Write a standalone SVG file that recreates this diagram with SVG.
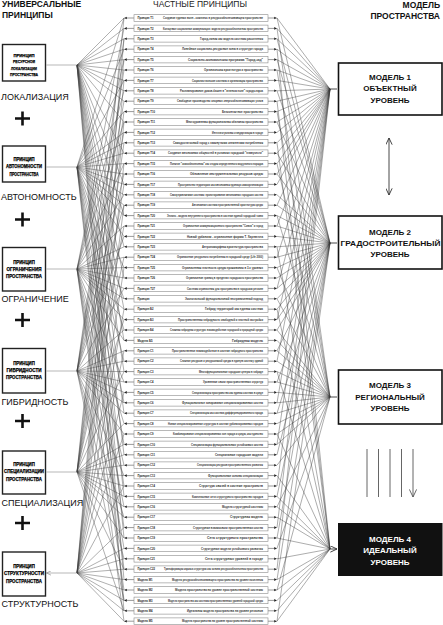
<svg xmlns="http://www.w3.org/2000/svg" xmlns:xlink="http://www.w3.org/1999/xlink" width="443" height="625" viewBox="0 0 443 625">
<style>
text{font-family:"Liberation Sans",Arial,sans-serif}
.hd{font-size:8.5px;font-weight:bold;fill:#111}
.hr{font-size:8.5px;fill:#222}
.ub{fill:#fff;stroke:#222;stroke-width:1.4}
.ut{font-weight:bold;fill:#000;stroke:#000;stroke-width:0.25;text-anchor:middle}
.ul{font-size:9px;fill:#111}
.pl{stroke:#111;stroke-width:2.6;fill:none}
.rb{fill:#fff;stroke:#8a8a8a;stroke-width:0.6}
.rl{stroke:#333;stroke-width:0.5;fill:none}
.rh{fill:#222}
.lb{font-size:3.4px;font-weight:bold;fill:#222}
.tx{font-size:3.4px;font-weight:bold;fill:#333}
.fan{stroke:#404040;stroke-width:0.42;fill:none}
.fanr{stroke:#3a3a3a;stroke-width:0.42;fill:none}
.sa{stroke:#888;stroke-width:0.6;fill:none}
.mb{fill:#fff;stroke:#111;stroke-width:1.6}
.mt{font-size:8px;font-weight:bold;fill:#111;text-anchor:middle}
.mw{font-size:8px;font-weight:bold;fill:#fff;text-anchor:middle}
.va{stroke:#333;stroke-width:0.9;fill:none}
.da{stroke:#555;stroke-width:0.9;fill:none}
</style>
<defs>
<marker id="oa" viewBox="0 0 10 10" refX="9.5" refY="5" markerWidth="7" markerHeight="7" markerUnits="userSpaceOnUse" orient="auto-start-reverse"><path d="M0 0.5L9.5 5L0 9.5" fill="none" stroke="#333" stroke-width="1.3"/></marker>
<marker id="og" viewBox="0 0 10 10" refX="9.5" refY="5" markerWidth="5" markerHeight="5" markerUnits="userSpaceOnUse" orient="auto"><path d="M0 0.5L9.5 5L0 9.5" fill="none" stroke="#888" stroke-width="1.3"/></marker>
<marker id="od" viewBox="0 0 10 10" refX="9.5" refY="5" markerWidth="8" markerHeight="8" markerUnits="userSpaceOnUse" orient="auto"><path d="M0 0.5L9.5 5L0 9.5" fill="none" stroke="#555" stroke-width="1.1"/></marker>
<g id="row">
<path class="rl" d="M134 0H126.5M268 0H274.5"/>
<path class="rh" d="M124 0l2.8-1.3v2.6zM277 0l-2.8-1.3v2.6z"/>
<rect class="rb" x="134" y="-3.3" width="134" height="6.6"/>
</g>
</defs>
<rect width="443" height="625" fill="#fff"/>

<g id="headers">
<text class="hd" x="2" y="6.5">УНИВЕРСАЛЬНЫЕ</text>
<text class="hd" x="2" y="18">ПРИНЦИПЫ</text>
<text class="hr" x="200" y="6.5" text-anchor="middle">ЧАСТНЫЕ ПРИНЦИПЫ</text>
<text class="hd" x="440" y="8" text-anchor="end">МОДЕЛЬ</text>
<text class="hd" x="440" y="18.5" text-anchor="end">ПРОСТРАНСТВА</text>
</g>

<g id="connectors">
<path class="fan" d="M77 65 124 18M77 65 124 28.4M77 65 124 38.8M77 65 124 49.2M77 65 124 59.6M77 65 124 70M77 65 124 80.4M77 65 124 90.8M77 65 124 101.2M77 65 124 122M77 65 124 153.2M77 65 124 184.4M77 65 124 215.6M77 65 124 246.8M77 65 124 278M77 65 124 309.2M77 65 124 340.4M77 65 124 371.6M77 65 124 413.2M77 65 124 454.8M77 65 124 496.4M77 65 124 538M77 65 124 579.6M77 65 124 610.8"/>
<path class="fan" d="M77 167 124 18M77 167 124 49.2M77 167 124 80.4M77 167 124 111.6M77 167 124 132.4M77 167 124 142.8M77 167 124 153.2M77 167 124 163.6M77 167 124 174M77 167 124 184.4M77 167 124 194.8M77 167 124 205.2M77 167 124 215.6M77 167 124 236.4M77 167 124 267.6M77 167 124 298.8M77 167 124 330M77 167 124 361.2M77 167 124 402.8M77 167 124 444.4M77 167 124 486M77 167 124 527.6M77 167 124 569.2M77 167 124 600.4"/>
<path class="fan" d="M77 269 124 28.4M77 269 124 59.6M77 269 124 90.8M77 269 124 122M77 269 124 163.6M77 269 124 194.8M77 269 124 226M77 269 124 246.8M77 269 124 257.2M77 269 124 267.6M77 269 124 278M77 269 124 288.4M77 269 124 298.8M77 269 124 309.2M77 269 124 319.6M77 269 124 340.4M77 269 124 382M77 269 124 423.6M77 269 124 465.2M77 269 124 506.8M77 269 124 548.4M77 269 124 590M77 269 124 621.2"/>
<path class="fan" d="M77 371 124 38.8M77 371 124 70M77 371 124 101.2M77 371 124 132.4M77 371 124 174M77 371 124 205.2M77 371 124 236.4M77 371 124 288.4M77 371 124 330M77 371 124 350.8M77 371 124 361.2M77 371 124 371.6M77 371 124 382M77 371 124 392.4M77 371 124 402.8M77 371 124 413.2M77 371 124 434M77 371 124 475.6M77 371 124 517.2M77 371 124 558.8M77 371 124 600.4"/>
<path class="fan" d="M77 472 124 18M77 472 124 59.6M77 472 124 111.6M77 472 124 142.8M77 472 124 184.4M77 472 124 226M77 472 124 257.2M77 472 124 319.6M77 472 124 371.6M77 472 124 423.6M77 472 124 444.4M77 472 124 454.8M77 472 124 465.2M77 472 124 475.6M77 472 124 486M77 472 124 496.4M77 472 124 506.8M77 472 124 517.2M77 472 124 538M77 472 124 569.2M77 472 124 610.8"/>
<path class="fan" d="M77 573 124 38.8M77 573 124 80.4M77 573 124 122M77 573 124 163.6M77 573 124 205.2M77 573 124 267.6M77 573 124 309.2M77 573 124 350.8M77 573 124 392.4M77 573 124 434M77 573 124 486M77 573 124 527.6M77 573 124 548.4M77 573 124 558.8M77 573 124 569.2M77 573 124 579.6M77 573 124 590M77 573 124 600.4M77 573 124 610.8M77 573 124 621.2"/>
<path class="sa" marker-end="url(#og)" d="M77 65H46.5M77 167H46.5M77 269H46.5M77 371H46.5M77 472H46.5M77 573H46.5"/>

<path class="fanr" d="M330 89 277 18M330 89 277 28.4M330 89 277 38.8M330 89 277 49.2M330 89 277 59.6M330 89 277 70M330 89 277 80.4M330 89 277 90.8M330 89 277 101.2M330 89 277 111.6M330 89 277 122M330 89 277 132.4M330 89 277 142.8M330 89 277 153.2M330 89 277 163.6M330 89 277 174M330 89 277 184.4M330 89 277 205.2M330 89 277 226M330 89 277 257.2M330 89 277 288.4M330 89 277 319.6M330 89 277 361.2M330 89 277 402.8M330 89 277 444.4M330 89 277 486M330 89 277 527.6M330 89 277 569.2"/>
<path class="fanr" d="M330 243 277 18M330 243 277 38.8M330 243 277 59.6M330 243 277 90.8M330 243 277 122M330 243 277 153.2M330 243 277 174M330 243 277 194.8M330 243 277 205.2M330 243 277 215.6M330 243 277 226M330 243 277 236.4M330 243 277 246.8M330 243 277 257.2M330 243 277 267.6M330 243 277 278M330 243 277 288.4M330 243 277 298.8M330 243 277 309.2M330 243 277 319.6M330 243 277 330M330 243 277 350.8M330 243 277 382M330 243 277 413.2M330 243 277 454.8M330 243 277 496.4M330 243 277 538M330 243 277 579.6M330 243 277 621.2"/>
<path class="fanr" d="M330 397 277 28.4M330 397 277 70M330 397 277 111.6M330 397 277 163.6M330 397 277 215.6M330 397 277 267.6M330 397 277 298.8M330 397 277 330M330 397 277 340.4M330 397 277 350.8M330 397 277 361.2M330 397 277 371.6M330 397 277 382M330 397 277 392.4M330 397 277 402.8M330 397 277 413.2M330 397 277 423.6M330 397 277 434M330 397 277 444.4M330 397 277 465.2M330 397 277 506.8M330 397 277 548.4M330 397 277 590"/>
<path class="fanr" d="M330 549 277 49.2M330 549 277 101.2M330 549 277 142.8M330 549 277 246.8M330 549 277 309.2M330 549 277 371.6M330 549 277 434M330 549 277 475.6M330 549 277 496.4M330 549 277 506.8M330 549 277 517.2M330 549 277 538M330 549 277 558.8M330 549 277 579.6M330 549 277 590M330 549 277 600.4M330 549 277 610.8M330 549 277 621.2"/>
<path class="va" marker-end="url(#oa)" d="M330 89H337M330 243H337M330 397H337M330 549H337"/>

<path class="va" marker-start="url(#oa)" marker-end="url(#oa)" d="M389 138V195"/>
<path class="da" marker-end="url(#od)" d="M367 449V497M378.5 449V497M390 449V497M401.5 449V497M413 449V497"/>
</g>

<g id="plus">
<path class="pl" d="M15 118.5H30M22.5 111.5V125.5"/>
<path class="pl" d="M15 219.5H30M22.5 212.5V226.5"/>
<path class="pl" d="M15 320H30M22.5 313V327"/>
<path class="pl" d="M15 421H30M22.5 414V428"/>
<path class="pl" d="M15 523H30M22.5 516V530"/>
</g>

<g id="u1">
<rect class="ub" x="2.5" y="44.5" width="43" height="36.5"/>
<text class="ut" font-size="4.4" x="24" y="56.6" textLength="21" lengthAdjust="spacingAndGlyphs">ПРИНЦИП</text>
<text class="ut" font-size="4.4" x="24" y="63.1" textLength="22" lengthAdjust="spacingAndGlyphs">РЕСУРСНОЙ</text>
<text class="ut" font-size="4.4" x="24" y="69.6" textLength="26" lengthAdjust="spacingAndGlyphs">ЛОКАЛИЗАЦИИ</text>
<text class="ut" font-size="4.4" x="24" y="76.1" textLength="28" lengthAdjust="spacingAndGlyphs">ПРОСТРАНСТВА</text>
<text class="ul" x="1" y="100.3">ЛОКАЛИЗАЦИЯ</text>
</g>
<g id="u2">
<rect class="ub" x="2.5" y="146" width="43" height="36"/>
<text class="ut" font-size="4.6" x="24" y="160.8" textLength="21" lengthAdjust="spacingAndGlyphs">ПРИНЦИП</text>
<text class="ut" font-size="4.6" x="24" y="168.4" textLength="36" lengthAdjust="spacingAndGlyphs">АВТОНОМНОСТИ</text>
<text class="ut" font-size="4.6" x="24" y="176.2" textLength="29" lengthAdjust="spacingAndGlyphs">ПРОСТРАНСТВА</text>
<text class="ul" x="1" y="200.3">АВТОНОМНОСТЬ</text>
</g>
<g id="u3">
<rect class="ub" x="2.5" y="247.5" width="43" height="43.5"/>
<text class="ut" font-size="5" x="24" y="263.8" textLength="21.5" lengthAdjust="spacingAndGlyphs">ПРИНЦИП</text>
<text class="ut" font-size="5" x="24" y="270.8" textLength="35" lengthAdjust="spacingAndGlyphs">ОГРАНИЧЕНИЯ</text>
<text class="ut" font-size="5" x="24" y="277.8" textLength="36" lengthAdjust="spacingAndGlyphs">ПРОСТРАНСТВА</text>
<text class="ul" x="1.5" y="302.3">ОГРАНИЧЕНИЕ</text>
</g>
<g id="u4">
<rect class="ub" x="2.5" y="348.5" width="43" height="44.5"/>
<text class="ut" font-size="5" x="24" y="364.8" textLength="21.5" lengthAdjust="spacingAndGlyphs">ПРИНЦИП</text>
<text class="ut" font-size="5" x="24" y="371.8" textLength="35" lengthAdjust="spacingAndGlyphs">ГИБРИДНОСТИ</text>
<text class="ut" font-size="5" x="24" y="378.8" textLength="36" lengthAdjust="spacingAndGlyphs">ПРОСТРАНСТВА</text>
<text class="ul" x="1.5" y="405.3">ГИБРИДНОСТЬ</text>
</g>
<g id="u5">
<rect class="ub" x="2.5" y="451" width="43" height="43"/>
<text class="ut" font-size="5" x="24" y="466" textLength="21.5" lengthAdjust="spacingAndGlyphs">ПРИНЦИП</text>
<text class="ut" font-size="5" x="24" y="473.4" textLength="40" lengthAdjust="spacingAndGlyphs">СПЕЦИАЛИЗАЦИИ</text>
<text class="ut" font-size="5" x="24" y="480.8" textLength="36" lengthAdjust="spacingAndGlyphs">ПРОСТРАНСТВА</text>
<text class="ul" x="1.5" y="506.3">СПЕЦИАЛИЗАЦИЯ</text>
</g>
<g id="u6">
<rect class="ub" x="2.5" y="552" width="43" height="44"/>
<text class="ut" font-size="5" x="24" y="567.8" textLength="21.5" lengthAdjust="spacingAndGlyphs">ПРИНЦИП</text>
<text class="ut" font-size="5" x="24" y="575.1" textLength="40" lengthAdjust="spacingAndGlyphs">СТРУКТУРНОСТИ</text>
<text class="ut" font-size="5" x="24" y="582.5" textLength="36" lengthAdjust="spacingAndGlyphs">ПРОСТРАНСТВА</text>
<text class="ul" x="1.5" y="607.3">СТРУКТУРНОСТЬ</text>
</g>

<g id="rows">
<g id="r1" transform="translate(0,18)"><use href="#row"/><text class="lb" x="137.5" y="1.2" textLength="16" lengthAdjust="spacingAndGlyphs">Принцип Т1</text><text class="tx" x="163" y="1.2" textLength="100" lengthAdjust="spacingAndGlyphs">Создание единых волн - комплекс в ресурсообеспечивающем пространстве</text></g>
<g id="r2" transform="translate(0,28.4)"><use href="#row"/><text class="lb" x="137.5" y="1.2" textLength="16" lengthAdjust="spacingAndGlyphs">Принцип Т2</text><text class="tx" x="163" y="1.2" textLength="100" lengthAdjust="spacingAndGlyphs">Кольцевые социальные коммуникации: модели ресурсообеспечения пространства</text></g>
<g id="r3" transform="translate(0,38.8)"><use href="#row"/><text class="lb" x="137.5" y="1.2" textLength="16" lengthAdjust="spacingAndGlyphs">Принцип Т3</text><text class="tx" x="200" y="1.2" textLength="63" lengthAdjust="spacingAndGlyphs">Город-линия как модель системы расселения</text></g>
<g id="r4" transform="translate(0,49.2)"><use href="#row"/><text class="lb" x="137.5" y="1.2" textLength="16" lengthAdjust="spacingAndGlyphs">Принцип Т4</text><text class="tx" x="182" y="1.2" textLength="81" lengthAdjust="spacingAndGlyphs">Линейные социально-ресурсные зоны в структуре города</text></g>
<g id="r5" transform="translate(0,59.6)"><use href="#row"/><text class="lb" x="137.5" y="1.2" textLength="16" lengthAdjust="spacingAndGlyphs">Принцип Т5</text><text class="tx" x="188" y="1.2" textLength="75" lengthAdjust="spacingAndGlyphs">Социально-экономическая программа "Город-сад"</text></g>
<g id="r6" transform="translate(0,70)"><use href="#row"/><text class="lb" x="137.5" y="1.2" textLength="16" lengthAdjust="spacingAndGlyphs">Принцип Т6</text><text class="tx" x="204" y="1.2" textLength="59" lengthAdjust="spacingAndGlyphs">Органическая архитектура и пространство</text></g>
<g id="r7" transform="translate(0,80.4)"><use href="#row"/><text class="lb" x="137.5" y="1.2" textLength="16" lengthAdjust="spacingAndGlyphs">Принцип Т7</text><text class="tx" x="192" y="1.2" textLength="71" lengthAdjust="spacingAndGlyphs">Социалистические системы и организация пространства</text></g>
<g id="r8" transform="translate(0,90.8)"><use href="#row"/><text class="lb" x="137.5" y="1.2" textLength="16" lengthAdjust="spacingAndGlyphs">Принцип Т8</text><text class="tx" x="180" y="1.2" textLength="83" lengthAdjust="spacingAndGlyphs">Распланирование домов-башен в "зеленом поле" города-парка</text></g>
<g id="r9" transform="translate(0,101.2)"><use href="#row"/><text class="lb" x="137.5" y="1.2" textLength="16" lengthAdjust="spacingAndGlyphs">Принцип Т9</text><text class="tx" x="177" y="1.2" textLength="86" lengthAdjust="spacingAndGlyphs">Свободное производство опорных энергообеспечивающих узлов</text></g>
<g id="r10" transform="translate(0,111.6)"><use href="#row"/><text class="lb" x="137.5" y="1.2" textLength="17.5" lengthAdjust="spacingAndGlyphs">Принцип Т10</text><text class="tx" x="222" y="1.2" textLength="41" lengthAdjust="spacingAndGlyphs">Безконтактное пространство</text></g>
<g id="r11" transform="translate(0,122)"><use href="#row"/><text class="lb" x="137.5" y="1.2" textLength="17.5" lengthAdjust="spacingAndGlyphs">Принцип Т11</text><text class="tx" x="186" y="1.2" textLength="77" lengthAdjust="spacingAndGlyphs">Многоуровневая функциональная объемная пространства</text></g>
<g id="r12" transform="translate(0,132.4)"><use href="#row"/><text class="lb" x="137.5" y="1.2" textLength="17.5" lengthAdjust="spacingAndGlyphs">Принцип Т12</text><text class="tx" x="212" y="1.2" textLength="51" lengthAdjust="spacingAndGlyphs">Интеллектуальная стандартизация в городе</text></g>
<g id="r13" transform="translate(0,142.8)"><use href="#row"/><text class="lb" x="137.5" y="1.2" textLength="17.5" lengthAdjust="spacingAndGlyphs">Принцип Т13</text><text class="tx" x="173" y="1.2" textLength="90" lengthAdjust="spacingAndGlyphs">Самодостаточный город с замкнутыми элементами потребления</text></g>
<g id="r14" transform="translate(0,153.2)"><use href="#row"/><text class="lb" x="137.5" y="1.2" textLength="17.5" lengthAdjust="spacingAndGlyphs">Принцип Т14</text><text class="tx" x="168" y="1.2" textLength="95" lengthAdjust="spacingAndGlyphs">Создание автономных общностей в условиях городской "плавучести"</text></g>
<g id="r15" transform="translate(0,163.6)"><use href="#row"/><text class="lb" x="137.5" y="1.2" textLength="17.5" lengthAdjust="spacingAndGlyphs">Принцип Т15</text><text class="tx" x="170" y="1.2" textLength="93" lengthAdjust="spacingAndGlyphs">Понятие "самообеспечения" как стадия определенного модульного порядка</text></g>
<g id="r16" transform="translate(0,174)"><use href="#row"/><text class="lb" x="137.5" y="1.2" textLength="17.5" lengthAdjust="spacingAndGlyphs">Принцип Т16</text><text class="tx" x="190" y="1.2" textLength="73" lengthAdjust="spacingAndGlyphs">Обновление инструментальных ресурсов среды</text></g>
<g id="r17" transform="translate(0,184.4)"><use href="#row"/><text class="lb" x="137.5" y="1.2" textLength="17.5" lengthAdjust="spacingAndGlyphs">Принцип Т17</text><text class="tx" x="178" y="1.2" textLength="85" lengthAdjust="spacingAndGlyphs">Пространство территории как автономная единица самоорганизации</text></g>
<g id="r18" transform="translate(0,194.8)"><use href="#row"/><text class="lb" x="137.5" y="1.2" textLength="17.5" lengthAdjust="spacingAndGlyphs">Принцип Т18</text><text class="tx" x="170" y="1.2" textLength="93" lengthAdjust="spacingAndGlyphs">Самоуправляемые системы: проектирование автономных городских систем</text></g>
<g id="r19" transform="translate(0,205.2)"><use href="#row"/><text class="lb" x="137.5" y="1.2" textLength="17.5" lengthAdjust="spacingAndGlyphs">Принцип Т19</text><text class="tx" x="192" y="1.2" textLength="71" lengthAdjust="spacingAndGlyphs">Автономные системы пространственной архитектуры среды</text></g>
<g id="r20" transform="translate(0,215.6)"><use href="#row"/><text class="lb" x="137.5" y="1.2" textLength="17.5" lengthAdjust="spacingAndGlyphs">Принцип Т20</text><text class="tx" x="167" y="1.2" textLength="96" lengthAdjust="spacingAndGlyphs">Эллипс - модель внутреннего пространства в системе единой городской ткани</text></g>
<g id="r21" transform="translate(0,226)"><use href="#row"/><text class="lb" x="137.5" y="1.2" textLength="17.5" lengthAdjust="spacingAndGlyphs">Принцип Т21</text><text class="tx" x="183" y="1.2" textLength="80" lengthAdjust="spacingAndGlyphs">Ограничение коммуникационного пространства "Союза" и город</text></g>
<g id="r22" transform="translate(0,236.4)"><use href="#row"/><text class="lb" x="137.5" y="1.2" textLength="17.5" lengthAdjust="spacingAndGlyphs">Принцип Т22</text><text class="tx" x="187" y="1.2" textLength="76" lengthAdjust="spacingAndGlyphs">Новый урбанизм - ограничение формы Т. Хартвелла</text></g>
<g id="r23" transform="translate(0,246.8)"><use href="#row"/><text class="lb" x="137.5" y="1.2" textLength="17.5" lengthAdjust="spacingAndGlyphs">Принцип Т23</text><text class="tx" x="202" y="1.2" textLength="61" lengthAdjust="spacingAndGlyphs">Антропоморфная архитектура пространства</text></g>
<g id="r24" transform="translate(0,257.2)"><use href="#row"/><text class="lb" x="137.5" y="1.2" textLength="17.5" lengthAdjust="spacingAndGlyphs">Принцип Т24</text><text class="tx" x="177" y="1.2" textLength="86" lengthAdjust="spacingAndGlyphs">Ограничение ресурсного потребления в городской среде (Life 2000)</text></g>
<g id="r25" transform="translate(0,267.6)"><use href="#row"/><text class="lb" x="137.5" y="1.2" textLength="17.5" lengthAdjust="spacingAndGlyphs">Принцип Т25</text><text class="tx" x="182" y="1.2" textLength="81" lengthAdjust="spacingAndGlyphs">Ограниченная плотность среды проживания в 3-х уровнях</text></g>
<g id="r26" transform="translate(0,278)"><use href="#row"/><text class="lb" x="137.5" y="1.2" textLength="17.5" lengthAdjust="spacingAndGlyphs">Принцип Т26</text><text class="tx" x="186" y="1.2" textLength="77" lengthAdjust="spacingAndGlyphs">Ограничение границ в пределах городского пространства</text></g>
<g id="r27" transform="translate(0,288.4)"><use href="#row"/><text class="lb" x="137.5" y="1.2" textLength="17.5" lengthAdjust="spacingAndGlyphs">Принцип Т27</text><text class="tx" x="187" y="1.2" textLength="76" lengthAdjust="spacingAndGlyphs">Системы ограничения для пространства в городском регионе</text></g>
<g id="r28" transform="translate(0,298.8)"><use href="#row"/><text class="lb" x="137.5" y="1.2" textLength="12" lengthAdjust="spacingAndGlyphs">Принцип</text><text class="tx" x="185" y="1.2" textLength="78" lengthAdjust="spacingAndGlyphs">Экологический функциональный неограниченный подход</text></g>
<g id="r29" transform="translate(0,309.2)"><use href="#row"/><text class="lb" x="137.5" y="1.2" textLength="16" lengthAdjust="spacingAndGlyphs">Принцип Б2</text><text class="tx" x="205" y="1.2" textLength="58" lengthAdjust="spacingAndGlyphs">Гибрид территорий как единая система</text></g>
<g id="r30" transform="translate(0,319.6)"><use href="#row"/><text class="lb" x="137.5" y="1.2" textLength="16" lengthAdjust="spacingAndGlyphs">Принцип Б3</text><text class="tx" x="178" y="1.2" textLength="85" lengthAdjust="spacingAndGlyphs">Пространственная гибридность свободной и плотной застройки</text></g>
<g id="r31" transform="translate(0,330)"><use href="#row"/><text class="lb" x="137.5" y="1.2" textLength="16" lengthAdjust="spacingAndGlyphs">Принцип Б4</text><text class="tx" x="170" y="1.2" textLength="93" lengthAdjust="spacingAndGlyphs">Сложная гибридная структура: взаимодействие городской и природной среды</text></g>
<g id="r32" transform="translate(0,340.4)"><use href="#row"/><text class="lb" x="137.5" y="1.2" textLength="15" lengthAdjust="spacingAndGlyphs">Модель Б5</text><text class="tx" x="232" y="1.2" textLength="31" lengthAdjust="spacingAndGlyphs">Гибридная модель</text></g>
<g id="r33" transform="translate(0,350.8)"><use href="#row"/><text class="lb" x="137.5" y="1.2" textLength="16" lengthAdjust="spacingAndGlyphs">Принцип С1</text><text class="tx" x="172" y="1.2" textLength="91" lengthAdjust="spacingAndGlyphs">Пространственное взаимодействие в системе гибридного пространства</text></g>
<g id="r34" transform="translate(0,361.2)"><use href="#row"/><text class="lb" x="137.5" y="1.2" textLength="16" lengthAdjust="spacingAndGlyphs">Принцип С2</text><text class="tx" x="180" y="1.2" textLength="83" lengthAdjust="spacingAndGlyphs">Слияние ресурсов и ресурсоемкой среды в единую систему зданий</text></g>
<g id="r35" transform="translate(0,371.6)"><use href="#row"/><text class="lb" x="137.5" y="1.2" textLength="16" lengthAdjust="spacingAndGlyphs">Принцип С3</text><text class="tx" x="199" y="1.2" textLength="64" lengthAdjust="spacingAndGlyphs">Многофункциональные городские центры в гибриде</text></g>
<g id="r36" transform="translate(0,382)"><use href="#row"/><text class="lb" x="137.5" y="1.2" textLength="16" lengthAdjust="spacingAndGlyphs">Принцип С4</text><text class="tx" x="203" y="1.2" textLength="60" lengthAdjust="spacingAndGlyphs">Уровневые связи пространственных структур</text></g>
<g id="r37" transform="translate(0,392.4)"><use href="#row"/><text class="lb" x="137.5" y="1.2" textLength="16" lengthAdjust="spacingAndGlyphs">Принцип С5</text><text class="tx" x="192" y="1.2" textLength="71" lengthAdjust="spacingAndGlyphs">Специализация пространства как единая система в среде</text></g>
<g id="r38" transform="translate(0,402.8)"><use href="#row"/><text class="lb" x="137.5" y="1.2" textLength="16" lengthAdjust="spacingAndGlyphs">Принцип С6</text><text class="tx" x="182" y="1.2" textLength="81" lengthAdjust="spacingAndGlyphs">Функциональное зонирование специализированных систем</text></g>
<g id="r39" transform="translate(0,413.2)"><use href="#row"/><text class="lb" x="137.5" y="1.2" textLength="16" lengthAdjust="spacingAndGlyphs">Принцип С7</text><text class="tx" x="190" y="1.2" textLength="73" lengthAdjust="spacingAndGlyphs">Специализация как система дифференцированного города</text></g>
<g id="r40" transform="translate(0,423.6)"><use href="#row"/><text class="lb" x="137.5" y="1.2" textLength="16" lengthAdjust="spacingAndGlyphs">Принцип С8</text><text class="tx" x="168" y="1.2" textLength="95" lengthAdjust="spacingAndGlyphs">Новые специализированные структуры в системе урбанизированных городов</text></g>
<g id="r41" transform="translate(0,434)"><use href="#row"/><text class="lb" x="137.5" y="1.2" textLength="16" lengthAdjust="spacingAndGlyphs">Принцип С9</text><text class="tx" x="173" y="1.2" textLength="90" lengthAdjust="spacingAndGlyphs">Комбинирование специализированных зон города и среды, как единство</text></g>
<g id="r42" transform="translate(0,444.4)"><use href="#row"/><text class="lb" x="137.5" y="1.2" textLength="17.5" lengthAdjust="spacingAndGlyphs">Принцип С10</text><text class="tx" x="191" y="1.2" textLength="72" lengthAdjust="spacingAndGlyphs">Специализация функциональных устойчивых систем</text></g>
<g id="r43" transform="translate(0,454.8)"><use href="#row"/><text class="lb" x="137.5" y="1.2" textLength="17.5" lengthAdjust="spacingAndGlyphs">Принцип С11</text><text class="tx" x="215" y="1.2" textLength="48" lengthAdjust="spacingAndGlyphs">Специальные городские модели</text></g>
<g id="r44" transform="translate(0,465.2)"><use href="#row"/><text class="lb" x="137.5" y="1.2" textLength="17.5" lengthAdjust="spacingAndGlyphs">Принцип С12</text><text class="tx" x="197" y="1.2" textLength="66" lengthAdjust="spacingAndGlyphs">Специализация ресурсов пространственного развития</text></g>
<g id="r45" transform="translate(0,475.6)"><use href="#row"/><text class="lb" x="137.5" y="1.2" textLength="17.5" lengthAdjust="spacingAndGlyphs">Принцип С13</text><text class="tx" x="208" y="1.2" textLength="55" lengthAdjust="spacingAndGlyphs">Функциональные основы специализации</text></g>
<g id="r46" transform="translate(0,486)"><use href="#row"/><text class="lb" x="137.5" y="1.2" textLength="17.5" lengthAdjust="spacingAndGlyphs">Принцип С14</text><text class="tx" x="199" y="1.2" textLength="64" lengthAdjust="spacingAndGlyphs">Структура связей в системе пространств</text></g>
<g id="r47" transform="translate(0,496.4)"><use href="#row"/><text class="lb" x="137.5" y="1.2" textLength="17.5" lengthAdjust="spacingAndGlyphs">Принцип С15</text><text class="tx" x="192" y="1.2" textLength="71" lengthAdjust="spacingAndGlyphs">Комплексные сети структурного пространства городов</text></g>
<g id="r48" transform="translate(0,506.8)"><use href="#row"/><text class="lb" x="137.5" y="1.2" textLength="17.5" lengthAdjust="spacingAndGlyphs">Принцип С16</text><text class="tx" x="222" y="1.2" textLength="41" lengthAdjust="spacingAndGlyphs">Модель структурной системы</text></g>
<g id="r49" transform="translate(0,517.2)"><use href="#row"/><text class="lb" x="137.5" y="1.2" textLength="17.5" lengthAdjust="spacingAndGlyphs">Принцип С17</text><text class="tx" x="230" y="1.2" textLength="33" lengthAdjust="spacingAndGlyphs">Структурная модель</text></g>
<g id="r50" transform="translate(0,527.6)"><use href="#row"/><text class="lb" x="137.5" y="1.2" textLength="17.5" lengthAdjust="spacingAndGlyphs">Принцип С18</text><text class="tx" x="193" y="1.2" textLength="70" lengthAdjust="spacingAndGlyphs">Структурные взаимосвязи пространственных систем</text></g>
<g id="r51" transform="translate(0,538)"><use href="#row"/><text class="lb" x="137.5" y="1.2" textLength="17.5" lengthAdjust="spacingAndGlyphs">Принцип С19</text><text class="tx" x="207" y="1.2" textLength="56" lengthAdjust="spacingAndGlyphs">Сеть структурного пространства</text></g>
<g id="r52" transform="translate(0,548.4)"><use href="#row"/><text class="lb" x="137.5" y="1.2" textLength="17.5" lengthAdjust="spacingAndGlyphs">Принцип С20</text><text class="tx" x="201" y="1.2" textLength="62" lengthAdjust="spacingAndGlyphs">Структурные модели устойчивого развития</text></g>
<g id="r53" transform="translate(0,558.8)"><use href="#row"/><text class="lb" x="137.5" y="1.2" textLength="17.5" lengthAdjust="spacingAndGlyphs">Принцип С21</text><text class="tx" x="205" y="1.2" textLength="58" lengthAdjust="spacingAndGlyphs">Сеть структурных уровней в городе</text></g>
<g id="r54" transform="translate(0,569.2)"><use href="#row"/><text class="lb" x="137.5" y="1.2" textLength="17.5" lengthAdjust="spacingAndGlyphs">Принцип С22</text><text class="tx" x="164" y="1.2" textLength="99" lengthAdjust="spacingAndGlyphs">Трансформация каркаса структуры как основа ресурсообеспечения пространства</text></g>
<g id="r55" transform="translate(0,579.6)"><use href="#row"/><text class="lb" x="137.5" y="1.2" textLength="15" lengthAdjust="spacingAndGlyphs">Модель М1</text><text class="tx" x="172" y="1.2" textLength="91" lengthAdjust="spacingAndGlyphs">Модель ресурсообеспечивающего пространства на уровне поселения</text></g>
<g id="r56" transform="translate(0,590)"><use href="#row"/><text class="lb" x="137.5" y="1.2" textLength="15" lengthAdjust="spacingAndGlyphs">Модель М2</text><text class="tx" x="175" y="1.2" textLength="88" lengthAdjust="spacingAndGlyphs">Модель пространства на уровне пространственной системы</text></g>
<g id="r57" transform="translate(0,600.4)"><use href="#row"/><text class="lb" x="137.5" y="1.2" textLength="15" lengthAdjust="spacingAndGlyphs">Модель М3</text><text class="tx" x="168" y="1.2" textLength="95" lengthAdjust="spacingAndGlyphs">Модель пространства как системы пространственных уровней городской среды</text></g>
<g id="r58" transform="translate(0,610.8)"><use href="#row"/><text class="lb" x="137.5" y="1.2" textLength="15" lengthAdjust="spacingAndGlyphs">Модель М4</text><text class="tx" x="187" y="1.2" textLength="76" lengthAdjust="spacingAndGlyphs">Идеальная модель пространства на уровне регионов</text></g>
<g id="r59" transform="translate(0,621.2)"><use href="#row"/><text class="lb" x="137.5" y="1.2" textLength="15" lengthAdjust="spacingAndGlyphs">Модель М5</text><text class="tx" x="182" y="1.2" textLength="81" lengthAdjust="spacingAndGlyphs">Модель пространства на уровне пространственной системы</text></g>
</g>

<g id="m1">
<rect class="mb" x="338.5" y="63" width="103.5" height="52"/>
<text class="mt" x="390" y="79.9">МОДЕЛЬ 1</text>
<text class="mt" x="390" y="90.9">ОБЪЕКТНЫЙ</text>
<text class="mt" x="390" y="102.9">УРОВЕНЬ</text>
</g>
<g id="m2">
<rect class="mb" x="338.5" y="216" width="103.5" height="53"/>
<text class="mt" x="390" y="234.9">МОДЕЛЬ 2</text>
<text class="mt" x="390.5" y="245.9" textLength="100" lengthAdjust="spacingAndGlyphs">ГРАДОСТРОИТЕЛЬНЫЙ</text>
<text class="mt" x="390" y="256.9">УРОВЕНЬ</text>
</g>
<g id="m3">
<rect class="mb" x="338.5" y="370" width="103.5" height="54"/>
<text class="mt" x="390" y="387.9">МОДЕЛЬ 3</text>
<text class="mt" x="390" y="399.9">РЕГИОНАЛЬНЫЙ</text>
<text class="mt" x="390" y="410.9">УРОВЕНЬ</text>
</g>
<g id="m4">
<rect x="338" y="523" width="104.5" height="53" fill="#111"/>
<text class="mw" x="390" y="541.9">МОДЕЛЬ 4</text>
<text class="mw" x="390" y="553.4">ИДЕАЛЬНЫЙ</text>
<text class="mw" x="390" y="564.9">УРОВЕНЬ</text>
</g>
</svg>
